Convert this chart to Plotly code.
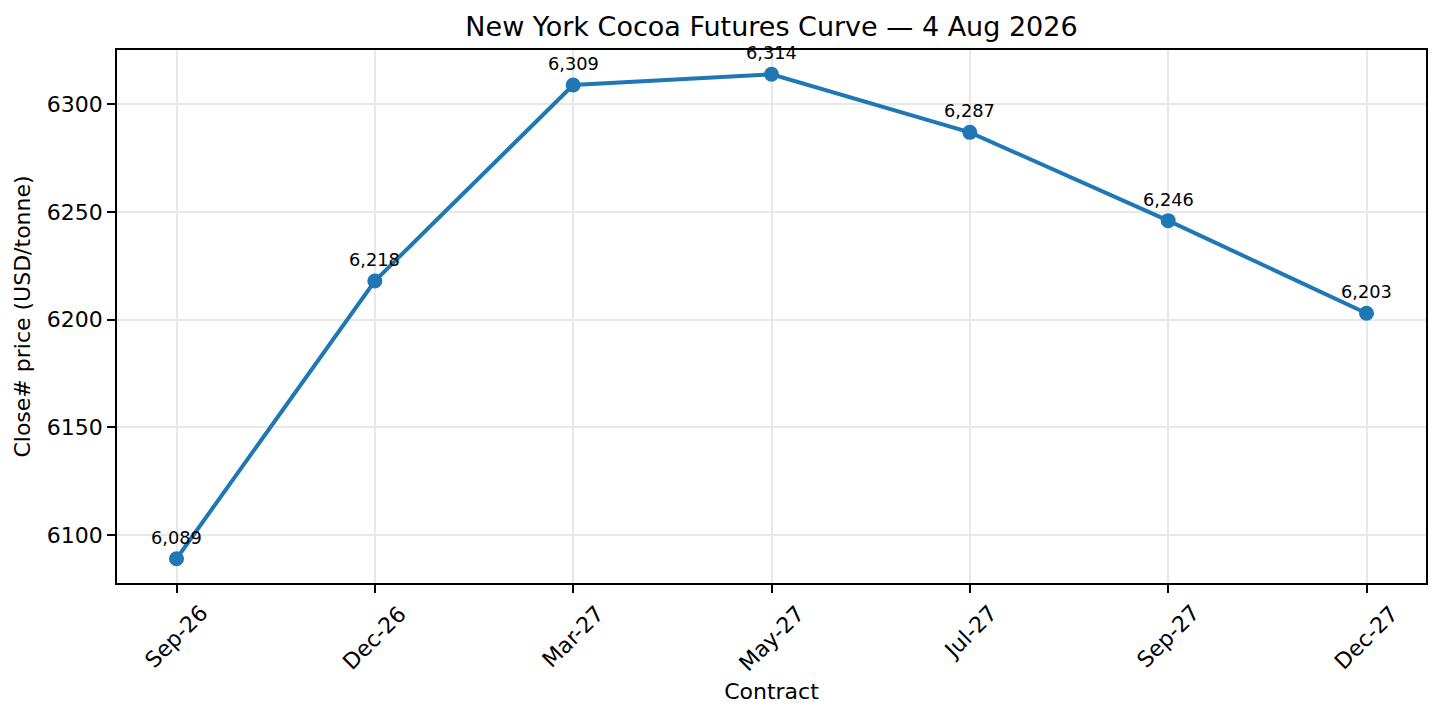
#!/usr/bin/env python3
"""New York cocoa futures curve, one close per contract month."""
import plotly.graph_objects as go

CONTRACTS = ["Sep-26", "Dec-26", "Mar-27", "May-27", "Jul-27", "Sep-27", "Dec-27"]
CLOSES = [6089, 6218, 6309, 6314, 6287, 6246, 6203]

BLUE = "#1f77b4"
GRID = "#e8e8e8"
FONT = "DejaVu Sans"

# page body has an 8px margin, so the figure is sized to fit beside it
W, H = 1432, 719

fig = go.Figure()

fig.add_trace(go.Scatter(
    x=list(range(len(CONTRACTS))), y=CLOSES,
    mode="lines+markers",
    line=dict(color=BLUE, width=4),
    marker=dict(color=BLUE, size=15),
    showlegend=False,
))

# value labels above each point
for i, v in enumerate(CLOSES):
    fig.add_annotation(
        x=i, y=v, text=f"{v:,}", showarrow=False,
        xanchor="center", yanchor="bottom", yshift=9,
        font=dict(family=FONT, size=17.8, color="black"),
    )

# rotated tick labels, centred under each tick like matplotlib does it
for i, lab in enumerate(CONTRACTS):
    fig.add_annotation(
        x=i, xref="x", y=0, yref="paper", text=lab, showarrow=False,
        textangle=-45, xanchor="center", yanchor="top", yshift=-15,
        font=dict(family=FONT, size=22, color="black"),
    )

axis_common = dict(
    showline=True, linecolor="black", linewidth=1.8, mirror=True,
    showgrid=True, gridcolor=GRID, gridwidth=1.6,
    ticks="outside", ticklen=8, tickwidth=1.8, tickcolor="black",
    zeroline=False,
)

fig.update_layout(
    width=W, height=H,
    margin=dict(l=109, r=14, t=42, b=144),
    paper_bgcolor="white", plot_bgcolor="white",
    font=dict(family=FONT, color="black"),
    title=dict(text="New York Cocoa Futures Curve — 4 Aug 2026",
               x=(109 + (W - 14)) / 2 / W, xanchor="center",
               y=1 - 19 / H, yanchor="middle",
               font=dict(family=FONT, size=27)),
    xaxis=dict(
        **axis_common,
        range=[-0.3, len(CONTRACTS) - 0.7],
        tickvals=list(range(len(CONTRACTS))),
        showticklabels=False,
        title=dict(text="Contract", standoff=92, font=dict(size=22)),
    ),
    yaxis=dict(
        **axis_common,
        range=[6077.75, 6325.25],
        tickvals=[6100, 6150, 6200, 6250, 6300],
        tickfont=dict(size=22),
        title=dict(text="Close# price (USD/tonne)", standoff=10, font=dict(size=22)),
    ),
)

fig.write_html("out.html")
